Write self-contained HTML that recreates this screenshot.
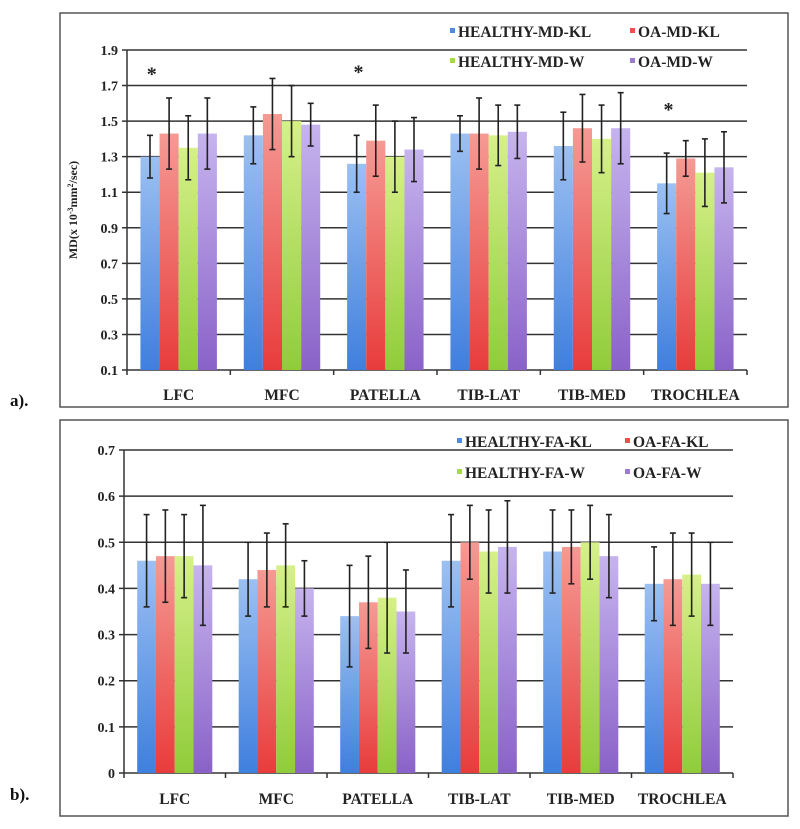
<!DOCTYPE html>
<html><head><meta charset="utf-8"><style>
html,body{margin:0;padding:0;background:#fff;}
svg{display:block;font-family:"Liberation Serif",serif;font-weight:bold;}
</style></head><body>
<svg id="svg" width="800" height="829" viewBox="0 0 800 829" xmlns="http://www.w3.org/2000/svg">
<defs>
<linearGradient id="g0" x1="0" y1="0" x2="0" y2="1"><stop offset="0" stop-color="#9cc0f2"/><stop offset="1" stop-color="#3f7fde"/></linearGradient>
<linearGradient id="g1" x1="0" y1="0" x2="0" y2="1"><stop offset="0" stop-color="#f59a94"/><stop offset="1" stop-color="#e83c3c"/></linearGradient>
<linearGradient id="g2" x1="0" y1="0" x2="0" y2="1"><stop offset="0" stop-color="#d6f08a"/><stop offset="1" stop-color="#90cc3a"/></linearGradient>
<linearGradient id="g3" x1="0" y1="0" x2="0" y2="1"><stop offset="0" stop-color="#c6b4ee"/><stop offset="1" stop-color="#8a62c8"/></linearGradient>
</defs>
</svg>
<script>
const categories = ["LFC","MFC","PATELLA","TIB-LAT","TIB-MED","TROCHLEA"];
const mdSeriesNames = ["HEALTHY-MD-KL","OA-MD-KL","HEALTHY-MD-W","OA-MD-W"];
const faSeriesNames = ["HEALTHY-FA-KL","OA-FA-KL","HEALTHY-FA-W","OA-FA-W"];
const mdHealthyKL = [1.30,1.42,1.26,1.43,1.36,1.15];
const mdOAKL      = [1.43,1.54,1.39,1.43,1.46,1.29];
const mdHealthyW  = [1.35,1.50,1.30,1.42,1.40,1.21];
const mdOAW       = [1.43,1.48,1.34,1.44,1.46,1.24];
const mdErrHKL = [0.12,0.16,0.16,0.10,0.19,0.17];
const mdErrOKL = [0.20,0.20,0.20,0.20,0.19,0.10];
const mdErrHW  = [0.18,0.20,0.20,0.17,0.19,0.19];
const mdErrOW  = [0.20,0.12,0.18,0.15,0.20,0.20];
const faHealthyKL = [0.46,0.42,0.34,0.46,0.48,0.41];
const faOAKL      = [0.47,0.44,0.37,0.50,0.49,0.42];
const faHealthyW  = [0.47,0.45,0.38,0.48,0.50,0.43];
const faOAW       = [0.45,0.40,0.35,0.49,0.47,0.41];
const faErrHKL = [0.10,0.08,0.11,0.10,0.09,0.08];
const faErrOKL = [0.10,0.08,0.10,0.08,0.08,0.10];
const faErrHW  = [0.09,0.09,0.12,0.09,0.08,0.09];
const faErrOW  = [0.13,0.06,0.09,0.10,0.09,0.09];
const mdTicks = ["0.1","0.3","0.5","0.7","0.9","1.1","1.3","1.5","1.7","1.9"];
const faTicks = ["0","0.1","0.2","0.3","0.4","0.5","0.6","0.7"];
const mdAsteriskLevel = [1.78,null,1.79,null,null,1.58];

const NS="http://www.w3.org/2000/svg";
const svg=document.getElementById('svg');
function el(tag,attrs,parent,text){const e=document.createElementNS(NS,tag);for(const k in attrs)e.setAttribute(k,attrs[k]);if(text!==undefined)e.textContent=text;(parent||svg).appendChild(e);return e;}
const colors=["#4f8be2","#ec4f4c","#a6d84c","#9a7ad2"];

function chart(cfg){
  const g=el('g',{});
  
  
  const fr=el('rect',{x:cfg.box[0],y:cfg.box[1],width:cfg.box[2],height:cfg.box[3],fill:'none',stroke:'#555','stroke-width':1.5},g);
  
  const y=v=>cfg.y0+(v-cfg.vmin)/(cfg.vmax-cfg.vmin)*(cfg.y1-cfg.y0);
  const cw=(cfg.x1-cfg.x0)/categories.length;
  cfg.ticks.forEach(t=>{
    const yy=y(parseFloat(t));
    const ln=el('line',{x1:cfg.x0-5,x2:cfg.x1,y1:yy,y2:yy,stroke:'#333','stroke-width':1.5},g);
    
    const tx=el('text',{x:cfg.x0-9,y:yy+5,'text-anchor':'end','font-size':14,fill:'#222'},g,t);
    
  });
  const ax=el('line',{x1:cfg.x0,x2:cfg.x0,y1:y(cfg.vmax),y2:y(cfg.vmin),stroke:'#333','stroke-width':1.5},g);
  
  for(let i=0;i<=categories.length;i++){
    const xx=cfg.x0+i*cw;
    const tk=el('line',{x1:xx,x2:xx,y1:y(cfg.vmin),y2:y(cfg.vmin)+5,stroke:'#333','stroke-width':1.5},g);
    
  }
  const bw=cw*0.185;
  categories.forEach((c,i)=>{
    const cx=cfg.x0+i*cw+cw/2;
    cfg.series.forEach((s,j)=>{
      const bx=cx-2*bw+j*bw;
      const v=s[i];
      const r=el('rect',{x:bx,y:y(v),width:bw,height:y(cfg.vmin)-y(v),fill:'url(#g'+j+')'},g);
      
      
      const e=cfg.errs[j][i];const mx=bx+bw/2;
      const eg=el('g',{stroke:'#222','stroke-width':1.6},g);
      
      el('line',{x1:mx,x2:mx,y1:y(v+e),y2:y(v-e)},eg);
      el('line',{x1:mx-3,x2:mx+3,y1:y(v+e),y2:y(v+e)},eg);
      el('line',{x1:mx-3,x2:mx+3,y1:y(v-e),y2:y(v-e)},eg);
    });
    const lb=el('text',{x:cx,y:cfg.labY,'text-anchor':'middle','font-size':15.5,fill:'#222'},g,c);
    
    if(cfg.ast && cfg.ast[i]!=null){
      const st=el('text',{x:cfg.x0+i*cw+cw*0.24,y:y(cfg.ast[i])+9,'text-anchor':'middle','font-size':20,fill:'#222'},g,'*');
      
    }
  });
  cfg.names.forEach((n,j)=>{
    const lx=cfg.legX[j%2], ly=cfg.legY[Math.floor(j/2)];
    const lg=el('g',{},g);
    
    el('rect',{x:lx,y:ly-9,width:5,height:5,fill:colors[j]},lg);
    el('text',{x:lx+8,y:ly,'font-size':15.5,fill:'#222'},lg,n);
  });
  const pl=el('text',{x:10,y:cfg.panelY,'font-size':17,fill:'#111'},g,cfg.panel);
  
  if(cfg.ytitle){
    const yt=el('text',{x:0,y:0,transform:'translate(77,'+((cfg.y0+cfg.y1)/2)+') rotate(-90)','text-anchor':'middle','font-size':12,fill:'#222'},g);
    
    yt.innerHTML='MD(x 10<tspan baseline-shift="super" font-size="8">-3</tspan>mm<tspan baseline-shift="super" font-size="8">2</tspan>/sec)';
  }
}
chart({name:'md-chart',box:[60,13,728,394],x0:127,x1:747,y0:370,y1:50,vmin:0.1,vmax:1.9,ticks:mdTicks,
  series:[mdHealthyKL,mdOAKL,mdHealthyW,mdOAW],errs:[mdErrHKL,mdErrOKL,mdErrHW,mdErrOW],names:mdSeriesNames,
  labY:400,legX:[450,630],legY:[37,67],panel:'a).',panelY:406,ast:mdAsteriskLevel,ytitle:true});
chart({name:'fa-chart',box:[60,420,728,396],x0:124,x1:733,y0:773,y1:450,vmin:0,vmax:0.7,ticks:faTicks,
  series:[faHealthyKL,faOAKL,faHealthyW,faOAW],errs:[faErrHKL,faErrOKL,faErrHW,faErrOW],names:faSeriesNames,
  labY:804,legX:[457,625],legY:[447,478],panel:'b).',panelY:800,ast:null,ytitle:false});
</script>
</body></html>
